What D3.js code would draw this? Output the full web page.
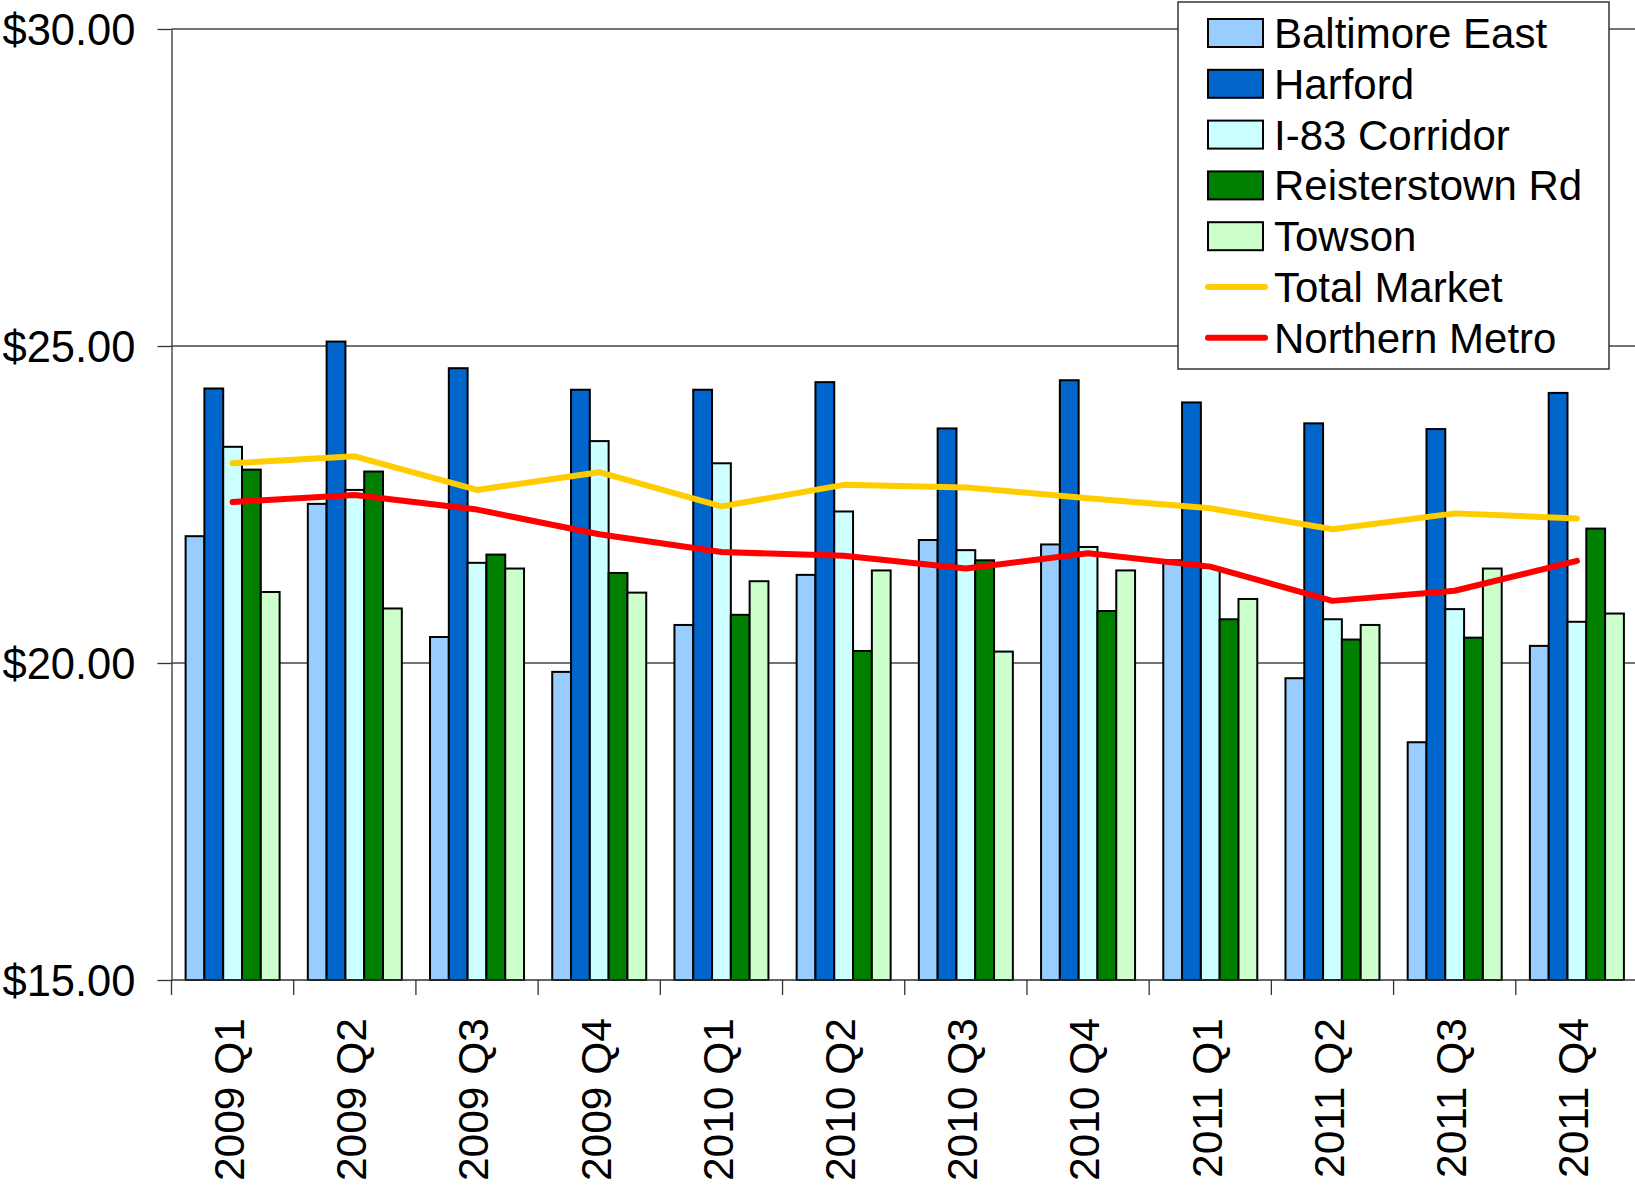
<!DOCTYPE html>
<html>
<head>
<meta charset="utf-8">
<script src="https://cdn.jsdelivr.net/npm/d3@7/dist/d3.min.js"></script>
<style>
body { margin:0; background:#fff; }
text { font-family: "Liberation Sans", Arial, sans-serif; }
</style>
</head>
<body>
<svg width="1635" height="1187"></svg>
<script>
// chart values
var quarters = ["2009 Q1","2009 Q2","2009 Q3","2009 Q4","2010 Q1","2010 Q2","2010 Q3","2010 Q4","2011 Q1","2011 Q2","2011 Q3","2011 Q4"]
var barNames = ["Baltimore East","Harford","I-83 Corridor","Reisterstown Rd","Towson"]
var baltimoreEast = [22.00,22.51,20.41,19.86,20.60,21.39,21.94,21.87,21.62,19.76,18.75,20.27]
var harford = [24.33,25.07,24.65,24.31,24.31,24.43,23.70,24.46,24.11,23.78,23.69,24.26]
var i83Corridor = [23.41,22.73,21.58,23.50,23.15,22.39,21.78,21.83,21.50,20.69,20.85,20.65]
var reisterstown = [23.05,23.02,21.71,21.42,20.76,20.19,21.62,20.82,20.69,20.37,20.40,22.12]
var towson = [21.12,20.86,21.49,21.11,21.29,21.46,20.18,21.46,21.01,20.60,21.49,20.78]
var totalMarket = [23.15,23.26,22.73,23.01,22.47,22.81,22.77,22.60,22.44,22.11,22.36,22.28]
var northernMetro = [22.54,22.65,22.42,22.03,21.75,21.69,21.49,21.73,21.52,20.98,21.14,21.61]
var yTicks = [15,20,25,30]

var barColors = ["#99CCFF","#0066CC","#CCFFFF","#008000","#CCFFCC"]
var lineNames = ["Total Market","Northern Metro"]
var lineColors = ["#FFCC00","#FF0000"]

var plot = {left:171.5, right:1638, top:29, bottom:980}

var svg = d3.select("svg")

var xScale = d3.scaleBand()
    .domain(quarters)
    .range([plot.left, plot.right])
    .padding(0)

var yScale = d3.scaleLinear()
    .domain([15, 30])
    .range([plot.bottom, plot.top])

var bw = xScale.bandwidth() / 6.5   // excel gap width 150%
var groupOffset = bw * 0.75

// gridlines
svg.append("g")
    .selectAll("line")
    .data(yTicks.slice(1))
    .enter()
    .append("line")
    .attr("x1", plot.left)
    .attr("x2", plot.right)
    .attr("y1", function(d){ return yScale(d) })
    .attr("y2", function(d){ return yScale(d) })
    .attr("stroke", "#444")
    .attr("stroke-width", 1.3)

// y axis
var yAxis = d3.axisLeft(yScale)
    .tickValues(yTicks)
    .tickSize(14)
    .tickSizeOuter(0)
    .tickPadding(22)
    .tickFormat(function(d){ return "$" + d.toFixed(2) })

var yg = svg.append("g")
    .attr("transform", "translate(" + plot.left + ",0)")
    .call(yAxis)
yg.selectAll("path, line").attr("stroke", "#333").attr("stroke-width", 1.3)
yg.selectAll("text")
    .attr("font-size", 43.5)
    .attr("font-family", "Liberation Sans, Arial, sans-serif")
    .attr("fill", "#000")
    .attr("dy", "0.36em")

// bars
var series = [baltimoreEast, harford, i83Corridor, reisterstown, towson]
series.forEach(function(vals, s)
{
    svg.append("g")
        .selectAll("rect")
        .data(vals)
        .enter()
        .append("rect")
        .attr("x", function(d, i){ return xScale(quarters[i]) + groupOffset + s * bw })
        .attr("y", function(d){ return yScale(d) })
        .attr("width", bw)
        .attr("height", function(d){ return yScale(15) - yScale(d) })
        .attr("fill", barColors[s])
        .attr("stroke", "#000")
        .attr("stroke-width", 2)
})

// x axis line + boundary ticks
var xg = svg.append("g")
xg.append("line")
    .attr("x1", plot.left).attr("x2", plot.right)
    .attr("y1", plot.bottom).attr("y2", plot.bottom)
    .attr("stroke", "#333").attr("stroke-width", 1.3)
xg.selectAll(".tick")
    .data(quarters)
    .enter()
    .append("line")
    .attr("x1", function(d){ return xScale(d) })
    .attr("x2", function(d){ return xScale(d) })
    .attr("y1", plot.bottom)
    .attr("y2", plot.bottom + 15)
    .attr("stroke", "#333").attr("stroke-width", 1.3)

xg.selectAll("text")
    .data(quarters)
    .enter()
    .append("text")
    .attr("transform", function(d)
    {
        return "translate(" + (xScale(d) + xScale.bandwidth() / 2 - 4) + "," + (plot.bottom + 38) + ") rotate(-90)"
    })
    .attr("text-anchor", "end")
    .attr("dy", "0.36em")
    .attr("font-size", 42.5)
    .text(function(d){ return d })

// lines
var lineGen = d3.line()
    .x(function(d, i){ return xScale(quarters[i]) + xScale.bandwidth() / 2 })
    .y(function(d){ return yScale(d) })

;[totalMarket, northernMetro].forEach(function(vals, k)
{
    svg.append("path")
        .datum(vals)
        .attr("d", lineGen)
        .attr("fill", "none")
        .attr("stroke", lineColors[k])
        .attr("stroke-width", 6)
        .attr("stroke-linecap", "round")
        .attr("stroke-linejoin", "round")
})

// legend
var legend = svg.append("g").attr("transform", "translate(1178,2)")
legend.append("rect")
    .attr("width", 431)
    .attr("height", 367)
    .attr("fill", "#fff")
    .attr("stroke", "#333")
    .attr("stroke-width", 1.5)

var items = barNames.concat(lineNames)
var rows = legend.selectAll(".item")
    .data(items)
    .enter()
    .append("g")
    .attr("transform", function(d, i){ return "translate(0," + (31 + i * 50.8) + ")" })

rows.each(function(d, i)
{
    var g = d3.select(this)
    if (i < 5)
    {
        g.append("rect")
            .attr("x", 30).attr("y", -14)
            .attr("width", 55).attr("height", 28)
            .attr("fill", barColors[i])
            .attr("stroke", "#000")
            .attr("stroke-width", 2)
    }
    else
    {
        g.append("line")
            .attr("x1", 30).attr("x2", 87)
            .attr("y1", 0).attr("y2", 0)
            .attr("stroke", lineColors[i - 5])
            .attr("stroke-width", 6)
            .attr("stroke-linecap", "round")
    }
    g.append("text")
        .attr("x", 96)
        .attr("y", 15)
        .attr("font-size", 42)
        .text(d)
})
</script>
</body>
</html>
